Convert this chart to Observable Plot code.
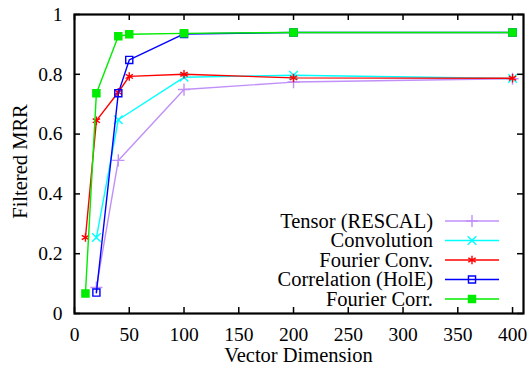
<!DOCTYPE html>
<html><head><meta charset="utf-8">
<script src="https://cdn.jsdelivr.net/npm/d3@7"></script>
<script src="https://cdn.jsdelivr.net/npm/@observablehq/plot@0.6"></script>
<style>body{margin:0;background:#fff} svg{display:block}</style>
</head><body><div id="chart"></div>
<script>
const xTicks = [0, 50, 100, 150, 200, 250, 300, 350, 400];
const yTicks = [0, 0.2, 0.4, 0.6, 0.8, 1];
const yTickLabels = ["0", "0.2", "0.4", "0.6", "0.8", "1"];

const seriesNames = ["Tensor (RESCAL)", "Convolution", "Fourier Conv.", "Correlation (HolE)", "Fourier Corr."];
const seriesColors = ["#c090f8", "#00ffff", "#ff0000", "#0000ff", "#00ec00"];
const seriesSymbols = ["plus", "times", "asterisk", "square", "square"];
const seriesFilled = [false, false, false, false, true];

const tensorX = [20, 40, 100, 200, 400];
const tensorY = [0.087, 0.512, 0.749, 0.774, 0.785];
const convX = [20, 40, 100, 200, 400];
const convY = [0.254, 0.648, 0.790, 0.797, 0.786];
const fconvX = [10, 20, 40, 50, 100, 200, 400];
const fconvY = [0.254, 0.645, 0.740, 0.793, 0.800, 0.788, 0.787];
const holeX = [20, 40, 50, 100, 200, 400];
const holeY = [0.070, 0.737, 0.848, 0.935, 0.940, 0.940];
const fcorrX = [10, 20, 40, 50, 100, 200, 400];
const fcorrY = [0.067, 0.737, 0.927, 0.934, 0.937, 0.940, 0.940];

const seriesX = [tensorX, convX, fconvX, holeX, fcorrX];
const seriesY = [tensorY, convY, fconvY, holeY, fcorrY];

const data = seriesNames.map((name, i) =>
  seriesX[i].map((x, j) => ({series: name, x, y: seriesY[i][j]})));

const W = 532, H = 365, mL = 74, mR = 9, mT = 14, mB = 52;
const innerH = H - mT - mB, innerW = W - mL - mR;
const font = "'Liberation Serif', 'Times New Roman', Times, serif";
const fsTick = 19.5, fsTitle = 20.5, fsLegend = 20.5;

const marks = [];
data.forEach((d, i) => {
  marks.push(Plot.line(d, {x: "x", y: "y", stroke: seriesColors[i], strokeWidth: 1.4}));
  marks.push(Plot.dot(d, {x: "x", y: "y", symbol: seriesSymbols[i], r: 4,
    stroke: seriesColors[i], strokeWidth: 1.4,
    fill: seriesFilled[i] ? seriesColors[i] : "none"}));
});

const chart = Plot.plot({
  width: W, height: H,
  marginLeft: mL, marginRight: mR, marginTop: mT, marginBottom: mB,
  style: {fontFamily: font, fontSize: fsTick + "px", color: "black", background: "white"},
  x: {domain: [0, 410]},
  y: {domain: [0, 1]},
  marks: [
    Plot.axisX({ticks: xTicks, tickSize: 0, tickPadding: 14, label: null, fontSize: fsTick}),
    Plot.axisY({ticks: yTicks, tickSize: 0, tickPadding: 12, label: null, fontSize: fsTick,
      tickFormat: (d) => yTickLabels[yTicks.indexOf(d)]}),
    Plot.tickX(xTicks, {x: d => d, insetTop: innerH - 6, stroke: "black", strokeWidth: 1.5}),
    Plot.tickX(xTicks, {x: d => d, insetBottom: innerH - 6, stroke: "black", strokeWidth: 1.5}),
    Plot.tickY(yTicks, {y: d => d, insetRight: innerW - 6, stroke: "black", strokeWidth: 1.5}),
    Plot.tickY(yTicks, {y: d => d, insetLeft: innerW - 6, stroke: "black", strokeWidth: 1.5}),
    ...marks,
    Plot.frame({stroke: "black", strokeWidth: 2.2})
  ]
});

const svg = d3.select(chart);
svg.append("text").attr("x", mL + innerW / 2).attr("y", 362)
  .attr("text-anchor", "middle").style("font-family", font).attr("font-size", fsTitle)
  .text("Vector Dimension");
svg.append("text").attr("transform", `translate(27, ${mT + innerH / 2 - 2}) rotate(-90)`)
  .attr("text-anchor", "middle").style("font-family", font).attr("font-size", fsTitle)
  .text("Filtered MRR");

const sym = {
  plus: d3.symbolPlus, times: d3.symbolTimes, asterisk: d3.symbolAsterisk, square: d3.symbolSquare
};
const legendRowY = (i) => 221 + i * 19.5;
seriesNames.forEach((name, i) => {
  const y = legendRowY(i);
  const g = svg.append("g");
  g.append("text").attr("x", 433).attr("y", y).attr("dy", "0.33em")
    .attr("text-anchor", "end").style("font-family", font).attr("font-size", fsLegend).text(name);
  g.append("line").attr("x1", 445).attr("x2", 499).attr("y1", y).attr("y2", y)
    .attr("stroke", seriesColors[i]).attr("stroke-width", 1.4);
  g.append("path").attr("transform", `translate(472, ${y})`)
    .attr("d", d3.symbol(sym[seriesSymbols[i]], 16 * Math.PI)())
    .attr("stroke", seriesColors[i]).attr("stroke-width", 1.4)
    .attr("fill", seriesFilled[i] ? seriesColors[i] : "none");
});

document.getElementById("chart").appendChild(chart);
</script>
</body></html>
